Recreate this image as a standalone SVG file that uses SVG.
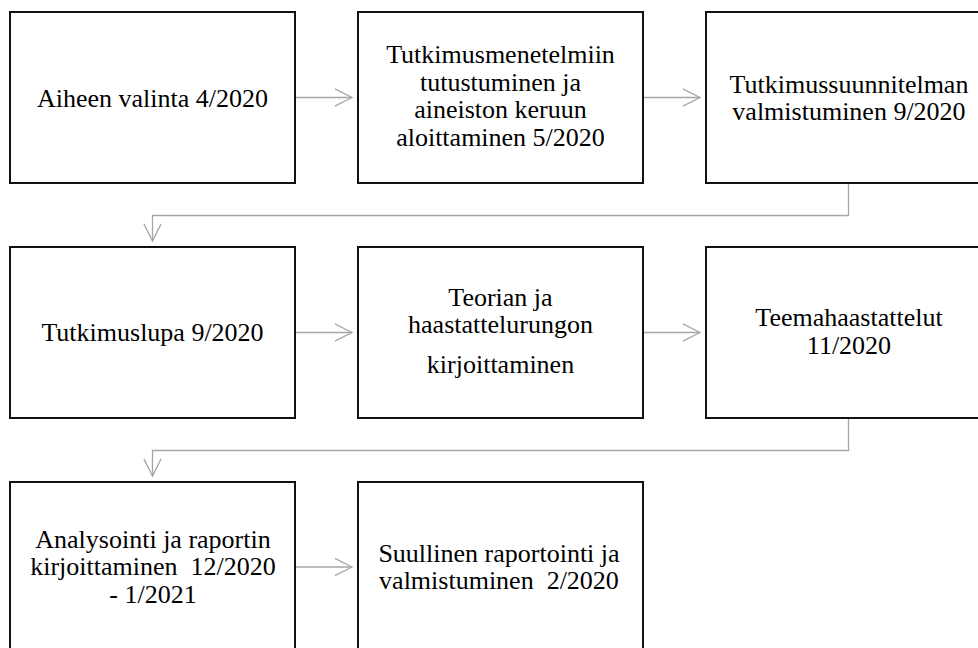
<svg xmlns="http://www.w3.org/2000/svg" width="978" height="648" viewBox="0 0 978 648">
<style>
.box{fill:#fff;stroke:#111;stroke-width:2}
.t{font-family:"Liberation Serif","Times New Roman",serif;font-size:26px;fill:#000;text-anchor:middle}
.c{fill:none;stroke:#a6a6a6;stroke-width:1.3}
</style>
<defs>
<marker id="ah" markerWidth="20" markerHeight="20" viewBox="-19 -10 21 20" refX="0" refY="0" orient="auto" markerUnits="userSpaceOnUse">
<path d="M-18,-9 L0,0 L-18,9" fill="none" stroke="#a6a6a6" stroke-width="1.3"/>
</marker>
</defs>
<rect width="978" height="648" fill="#fff"/>
<g id="connectors">
<line class="c" x1="296" y1="97.5" x2="352" y2="97.5" marker-end="url(#ah)"/>
<line class="c" x1="644" y1="97.5" x2="700" y2="97.5" marker-end="url(#ah)"/>
<polyline class="c" points="848.5,184 848.5,215.5 152.5,215.5 152.5,241" marker-end="url(#ah)"/>
<line class="c" x1="296" y1="332.5" x2="352" y2="332.5" marker-end="url(#ah)"/>
<line class="c" x1="644" y1="332.5" x2="700" y2="332.5" marker-end="url(#ah)"/>
<polyline class="c" points="848.5,419 848.5,450.5 152.5,450.5 152.5,476" marker-end="url(#ah)"/>
<line class="c" x1="296" y1="567" x2="352" y2="567" marker-end="url(#ah)"/>
</g>
<g id="n1"><rect class="box" x="10" y="12" width="285" height="171"/>
<text class="t" x="152.5" y="106.5">Aiheen valinta 4/2020</text></g>
<g id="n2"><rect class="box" x="358" y="12" width="285" height="171"/>
<text class="t" x="500.5" y="63">Tutkimusmenetelmiin</text>
<text class="t" x="500.5" y="90.5">tutustuminen ja</text>
<text class="t" x="500.5" y="118">aineiston keruun</text>
<text class="t" x="500.5" y="145.5">aloittaminen 5/2020</text></g>
<g id="n3"><rect class="box" x="706" y="12" width="285" height="171"/>
<text class="t" x="849" y="93">Tutkimussuunnitelman</text>
<text class="t" x="849" y="120">valmistuminen 9/2020</text></g>
<g id="n4"><rect class="box" x="10" y="247" width="285" height="171"/>
<text class="t" x="152.5" y="341">Tutkimuslupa 9/2020</text></g>
<g id="n5"><rect class="box" x="358" y="247" width="285" height="171"/>
<text class="t" x="500.5" y="306">Teorian ja</text>
<text class="t" x="500.5" y="333">haastattelurungon</text>
<text class="t" x="500.5" y="373">kirjoittaminen</text></g>
<g id="n6"><rect class="box" x="706" y="247" width="285" height="171"/>
<text class="t" x="849" y="326">Teemahaastattelut</text>
<text class="t" x="849" y="354">11/2020</text></g>
<g id="n7"><rect class="box" x="10" y="482" width="285" height="171"/>
<text class="t" x="153" y="547.5">Analysointi ja raportin</text>
<text class="t" x="153" y="575" xml:space="preserve">kirjoittaminen  12/2020</text>
<text class="t" x="153" y="602.5">- 1/2021</text></g>
<g id="n8"><rect class="box" x="358" y="482" width="285" height="171"/>
<text class="t" x="499" y="562">Suullinen raportointi ja</text>
<text class="t" x="499" y="589" xml:space="preserve">valmistuminen  2/2020</text></g>
</svg>
